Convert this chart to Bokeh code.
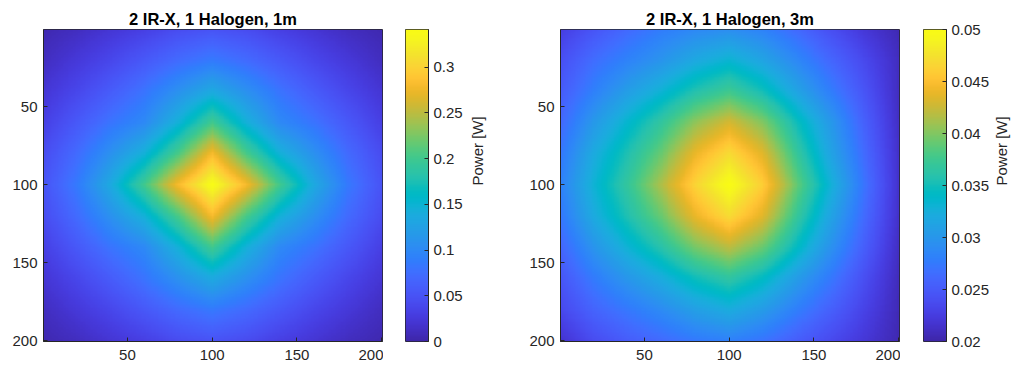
import math
import numpy as np
from bokeh.plotting import figure
from bokeh.layouts import row
from bokeh.models import Range1d, LinearColorMapper, FixedTicker
from bokeh.embed import file_html
from bokeh.resources import INLINE

# ---------------- data ----------------
# samples at pixel positions 0, 20, ..., 200 (rows = y from top, cols = x)
sample_positions = [0, 20, 40, 60, 80, 100, 120, 140, 160, 180, 200]

titles = ["2 IR-X, 1 Halogen, 1m", "2 IR-X, 1 Halogen, 3m"]

power_1m = [
    [0.004, 0.011, 0.021, 0.031, 0.043, 0.050, 0.043, 0.031, 0.021, 0.011, 0.004],
    [0.011, 0.024, 0.038, 0.055, 0.072, 0.085, 0.072, 0.055, 0.038, 0.024, 0.011],
    [0.021, 0.038, 0.058, 0.080, 0.108, 0.135, 0.108, 0.080, 0.058, 0.038, 0.021],
    [0.031, 0.055, 0.080, 0.100, 0.145, 0.200, 0.145, 0.100, 0.080, 0.055, 0.031],
    [0.043, 0.072, 0.108, 0.145, 0.205, 0.280, 0.205, 0.145, 0.108, 0.072, 0.043],
    [0.050, 0.085, 0.135, 0.200, 0.280, 0.340, 0.280, 0.200, 0.135, 0.085, 0.050],
    [0.043, 0.072, 0.108, 0.145, 0.205, 0.280, 0.205, 0.145, 0.108, 0.072, 0.043],
    [0.031, 0.055, 0.080, 0.100, 0.145, 0.200, 0.145, 0.100, 0.080, 0.055, 0.031],
    [0.021, 0.038, 0.058, 0.080, 0.108, 0.135, 0.108, 0.080, 0.058, 0.038, 0.021],
    [0.011, 0.024, 0.038, 0.055, 0.072, 0.085, 0.072, 0.055, 0.038, 0.024, 0.011],
    [0.004, 0.011, 0.021, 0.031, 0.043, 0.050, 0.043, 0.031, 0.021, 0.011, 0.004],
]

power_3m = [
    [0.0225, 0.0245, 0.0262, 0.0277, 0.0287, 0.0292, 0.0282, 0.0262, 0.0240, 0.0220, 0.0205],
    [0.0240, 0.0265, 0.0282, 0.0298, 0.0318, 0.0332, 0.0313, 0.0287, 0.0260, 0.0235, 0.0210],
    [0.0250, 0.0280, 0.0307, 0.0330, 0.0357, 0.0375, 0.0350, 0.0313, 0.0278, 0.0245, 0.0210],
    [0.0260, 0.0302, 0.0335, 0.0367, 0.0405, 0.0430, 0.0400, 0.0348, 0.0302, 0.0255, 0.0212],
    [0.0272, 0.0320, 0.0355, 0.0392, 0.0440, 0.0470, 0.0435, 0.0370, 0.0313, 0.0263, 0.0214],
    [0.0280, 0.0330, 0.0368, 0.0415, 0.0465, 0.0500, 0.0460, 0.0390, 0.0328, 0.0270, 0.0215],
    [0.0272, 0.0320, 0.0355, 0.0392, 0.0440, 0.0470, 0.0435, 0.0370, 0.0313, 0.0263, 0.0214],
    [0.0258, 0.0298, 0.0330, 0.0360, 0.0397, 0.0420, 0.0392, 0.0343, 0.0296, 0.0253, 0.0211],
    [0.0245, 0.0276, 0.0300, 0.0322, 0.0348, 0.0365, 0.0342, 0.0306, 0.0274, 0.0240, 0.0208],
    [0.0234, 0.0258, 0.0274, 0.0290, 0.0309, 0.0322, 0.0305, 0.0279, 0.0255, 0.0230, 0.0206],
    [0.0215, 0.0238, 0.0252, 0.0263, 0.0275, 0.0281, 0.0271, 0.0253, 0.0236, 0.0220, 0.0204],
]

color_limits_1m = [0.0, 0.341]
color_limits_3m = [0.02, 0.05]
axis_ticks = [50, 100, 150, 200]
cbar_ticks_1m = [0, 0.05, 0.1, 0.15, 0.2, 0.25, 0.3]
cbar_labels_1m = ["0", "0.05", "0.1", "0.15", "0.2", "0.25", "0.3"]
cbar_ticks_3m = [0.02, 0.025, 0.03, 0.035, 0.04, 0.045, 0.05]
cbar_labels_3m = ["0.02", "0.025", "0.03", "0.035", "0.04", "0.045", "0.05"]
cbar_title = "Power [W]"

# ---------------- parula colour map ----------------
PARULA_ANCHORS = [
    (0.2422, 0.1504, 0.6603), (0.2504, 0.1650, 0.7076), (0.2578, 0.1818, 0.7511), (0.2647, 0.1978, 0.7952),
    (0.2706, 0.2147, 0.8364), (0.2751, 0.2342, 0.8710), (0.2783, 0.2559, 0.8991), (0.2803, 0.2782, 0.9221),
    (0.2813, 0.3006, 0.9414), (0.2810, 0.3228, 0.9579), (0.2795, 0.3447, 0.9717), (0.2760, 0.3667, 0.9829),
    (0.2699, 0.3892, 0.9906), (0.2602, 0.4123, 0.9952), (0.2440, 0.4358, 0.9988), (0.2206, 0.4603, 0.9973),
    (0.1963, 0.4847, 0.9892), (0.1834, 0.5074, 0.9798), (0.1786, 0.5289, 0.9682), (0.1764, 0.5499, 0.9520),
    (0.1687, 0.5703, 0.9359), (0.1540, 0.5902, 0.9218), (0.1460, 0.6091, 0.9079), (0.1380, 0.6276, 0.8973),
    (0.1248, 0.6459, 0.8883), (0.1113, 0.6635, 0.8763), (0.0952, 0.6798, 0.8598), (0.0689, 0.6948, 0.8394),
    (0.0297, 0.7082, 0.8163), (0.0036, 0.7199, 0.7917), (0.0067, 0.7300, 0.7660), (0.0433, 0.7394, 0.7394),
    (0.0964, 0.7489, 0.7120), (0.1408, 0.7571, 0.6838), (0.1717, 0.7644, 0.6535), (0.1938, 0.7715, 0.6221),
    (0.2161, 0.7784, 0.5900), (0.2470, 0.7845, 0.5563), (0.2906, 0.7886, 0.5217), (0.3406, 0.7899, 0.4865),
    (0.3909, 0.7883, 0.4515), (0.4456, 0.7845, 0.4162), (0.5044, 0.7793, 0.3848), (0.5616, 0.7719, 0.3501),
    (0.6174, 0.7616, 0.3209), (0.6720, 0.7514, 0.2887), (0.7242, 0.7410, 0.2562), (0.7738, 0.7301, 0.2290),
    (0.8203, 0.7229, 0.2006), (0.8634, 0.7181, 0.1736), (0.9035, 0.7160, 0.1592), (0.9393, 0.7250, 0.1632),
    (0.9728, 0.7386, 0.1822), (0.9956, 0.7610, 0.1981), (0.9952, 0.7893, 0.2024), (0.9895, 0.8137, 0.2048),
    (0.9786, 0.8383, 0.2035), (0.9661, 0.8633, 0.1942), (0.9563, 0.8871, 0.1787), (0.9589, 0.9106, 0.1628),
    (0.9598, 0.9354, 0.1445), (0.9648, 0.9602, 0.1210), (0.9715, 0.9716, 0.1020), (0.9769, 0.9839, 0.0805),
]
_anch = np.array(PARULA_ANCHORS)
_t = np.linspace(0, 1, len(_anch))
_s = np.linspace(0, 1, 256)
_rgb = np.stack([np.interp(_s, _t, _anch[:, k]) for k in range(3)], axis=1)
PARULA = ["#%02x%02x%02x" % tuple(int(round(255 * c)) for c in rgb) for rgb in _rgb]

FONT = "Liberation Sans"
TXT = "#262626"
EDGE = "#262626"


def display_raster(grid):
    """Show the read samples at screen resolution (one value per image pixel 1..200)."""
    g = np.array(grid, dtype=float)
    px = np.arange(1, 201)
    along_x = np.array([np.interp(px, sample_positions, r) for r in g])
    return np.array([np.interp(px, sample_positions, along_x[:, j]) for j in range(len(px))]).T


def style_axis(ax, ticks):
    ax.ticker = FixedTicker(ticks=ticks)
    ax.major_tick_in = 4
    ax.major_tick_out = 0
    ax.minor_tick_line_color = None
    ax.axis_line_color = EDGE
    ax.major_tick_line_color = EDGE
    ax.major_label_text_font = FONT
    ax.major_label_text_color = TXT
    ax.major_label_text_font_size = "15px"


def heat_panel(title, grid, limits, border_right):
    p = figure(frame_width=339, frame_height=312,
               min_border_left=43, min_border_right=border_right,
               min_border_top=29, min_border_bottom=31,
               x_range=Range1d(0.5, 200.5), y_range=Range1d(200.5, 0.5),
               output_backend="svg", toolbar_location=None, title=title)
    mapper = LinearColorMapper(palette=PARULA, low=limits[0], high=limits[1])
    p.image(image=[display_raster(grid)], x=0.5, y=0.5, dw=200, dh=200, color_mapper=mapper)
    p.grid.visible = False
    p.outline_line_color = EDGE
    p.outline_line_width = 1
    style_axis(p.xaxis[0], axis_ticks)
    style_axis(p.yaxis[0], axis_ticks)
    p.yaxis[0].major_label_standoff = 6
    p.xaxis[0].major_label_standoff = 8
    p.title.align = "center"
    p.title.text_font = FONT
    p.title.text_font_size = "16.5px"
    p.title.text_font_style = "bold"
    p.title.text_color = "black"
    p.title.standoff = 3
    return p


def colorbar_panel(limits, ticks, labels, border_left, border_right, label_standoff):
    c = figure(frame_width=23, frame_height=312,
               min_border_left=border_left, min_border_right=border_right,
               min_border_top=29, min_border_bottom=31,
               x_range=Range1d(0, 1), y_range=Range1d(limits[0], limits[1]),
               x_axis_location=None, y_axis_location="right",
               output_backend="svg", toolbar_location=None)
    mapper = LinearColorMapper(palette=PARULA, low=limits[0], high=limits[1])
    c.image(image=[np.linspace(limits[0], limits[1], 256).reshape(256, 1)],
            x=0, y=limits[0], dw=1, dh=limits[1] - limits[0], color_mapper=mapper)
    c.grid.visible = False
    c.outline_line_color = EDGE
    ax = c.yaxis[0]
    style_axis(ax, ticks)
    ax.major_label_overrides = {t: l for t, l in zip(ticks, labels)}
    ax.major_label_standoff = 5
    ax.axis_label = cbar_title
    ax.axis_label_text_font = FONT
    ax.axis_label_text_font_size = "15px"
    ax.axis_label_text_font_style = "normal"
    ax.axis_label_text_color = TXT
    ax.axis_label_standoff = label_standoff
    if "axis_label_orientation" in ax.properties():
        ax.axis_label_orientation = math.pi / 2
    return c


h1 = heat_panel(titles[0], power_1m, color_limits_1m, 1)
c1 = colorbar_panel(color_limits_1m, cbar_ticks_1m, cbar_labels_1m, 22, 89, 12)
h2 = heat_panel(titles[1], power_3m, color_limits_3m, 1)
c2 = colorbar_panel(color_limits_3m, cbar_ticks_3m, cbar_labels_3m, 23, 68, 9)

layout = row(h1, c1, h2, c2, spacing=0)
open("out.html", "w").write(file_html(layout, INLINE))
